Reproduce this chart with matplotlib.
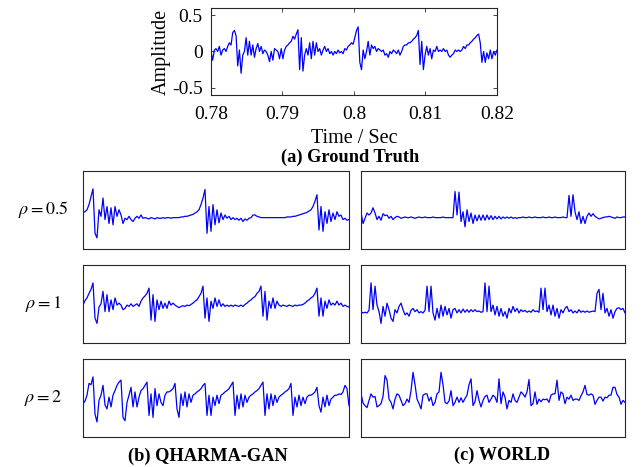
import numpy as np
import matplotlib
matplotlib.use('Agg')
import matplotlib.pyplot as plt

plt.rcParams['font.family'] = ['Liberation Serif', 'DejaVu Serif']
plt.rcParams['mathtext.fontset'] = 'stix'
plt.rcParams['axes.unicode_minus'] = False

LINE_COLOR = '#0000ff'
FRAME_COLOR = '#262626'

# (a) ground truth waveform, 0.78 s .. 0.82 s
t_start, t_end = 0.78, 0.82
gt_amp = [
    0.00, -0.12, 0.02, 0.04, 0.00, 0.07, -0.05, 0.02, 0.04, 0.00,
    0.07, 0.12, 0.09, 0.26, 0.29, 0.22, -0.20, 0.02, -0.30, -0.05,
    0.00, 0.19, -0.05, 0.14, -0.05, 0.09, -0.08, 0.04, 0.11, 0.00,
    0.07, -0.03, 0.02, 0.00, -0.05, -0.14, 0.00, -0.12, 0.04, 0.02,
    0.00, -0.10, 0.04, -0.10, 0.02, 0.07, 0.09, 0.12, 0.14, 0.21,
    0.17, 0.24, 0.30, -0.25, 0.19, -0.27, -0.05, 0.04, -0.05, 0.12,
    -0.10, 0.14, -0.05, 0.12, 0.00, 0.04, -0.05, 0.02, 0.07, 0.00,
    0.04, -0.03, 0.00, -0.05, 0.00, -0.03, 0.02, -0.02, 0.00, -0.03,
    0.04, 0.02, 0.07, 0.09, 0.12, 0.10, 0.19, 0.29, 0.34,
    -0.15, -0.25, 0.02, -0.10, 0.00, 0.14, -0.05, 0.09, 0.04, 0.07,
    0.00, 0.04, 0.02, 0.00, 0.02, -0.05, -0.03, -0.08, 0.00, -0.03,
    0.02, 0.00, -0.03, 0.02, -0.05, 0.00, 0.07, 0.09, 0.09, 0.12,
    0.12, 0.14, 0.17, 0.19, 0.22, 0.29, -0.18, 0.14, -0.25, -0.05,
    0.07, -0.05, 0.04, -0.10, 0.02, 0.00, 0.07, 0.00, 0.02, 0.00,
    0.04, 0.00, 0.02, -0.05, -0.08, -0.05, -0.03, 0.02, 0.00, 0.02,
    0.00, 0.02, 0.07, 0.04, 0.09, 0.09, 0.12, 0.14, 0.17, 0.19,
    0.22, 0.24, 0.12, -0.15, 0.00, -0.15, -0.02, -0.10, 0.02, -0.10,
    0.00, -0.05, 0.02,
]

# (b) QHARMA-GAN, same segment at rho = 0.5, 1, 2
qharma_05 = [
    -0.04, -0.03, 0.00, 0.08, 0.20, 0.32, -0.36, -0.43, 0.00, -0.10,
    0.18, -0.15, 0.05, -0.21, 0.03, -0.23, 0.05, -0.10, 0.00, -0.08,
    -0.21, -0.13, -0.15, -0.10, -0.15, -0.18, -0.13, -0.10, -0.13, -0.08,
    -0.13, -0.12, -0.13, -0.14, -0.12, -0.13, -0.14, -0.12, -0.13, -0.13,
    -0.12, -0.13, -0.12, -0.12, -0.13, -0.12, -0.12, -0.12, -0.12, -0.11,
    -0.11, -0.10, -0.10, -0.09, -0.08, -0.07, -0.05, -0.03, 0.00, 0.08,
    0.18, 0.31, -0.36, 0.05, -0.33, 0.08, -0.23, 0.00, -0.20, -0.05,
    -0.15, -0.08, -0.13, -0.10, -0.15, -0.12, -0.15, -0.13, -0.16, -0.13,
    -0.18, -0.14, -0.16, -0.13, -0.12, -0.08, -0.08, -0.10, -0.11, -0.12,
    -0.12, -0.12, -0.12, -0.12, -0.12, -0.12, -0.12, -0.12, -0.12, -0.12,
    -0.12, -0.12, -0.11, -0.11, -0.11, -0.10, -0.10, -0.09, -0.08, -0.07,
    -0.06, -0.05, -0.04, -0.02, 0.00, 0.05, 0.13, 0.23, -0.31, 0.05,
    -0.33, -0.03, -0.21, 0.00, -0.18, -0.05, -0.15, -0.03, -0.10, -0.08,
    -0.15, -0.13, -0.16, -0.15,
]
qharma_1 = [
    -0.02, 0.05, 0.09, 0.16, 0.22, 0.32, -0.22, -0.30, -0.05, 0.00,
    0.19, -0.12, 0.14, -0.12, 0.06, -0.09, 0.09, -0.02, 0.01, -0.02,
    -0.09, -0.07, -0.02, -0.04, 0.00, -0.04, -0.02, 0.00, -0.04, 0.04,
    0.09, 0.12, 0.16, 0.24, -0.25, 0.14, -0.27, 0.06, -0.09, 0.04,
    -0.07, 0.01, -0.07, 0.04, -0.02, 0.01, -0.02, -0.04, -0.06, -0.04,
    -0.03, -0.04, -0.02, -0.03, -0.01, 0.01, 0.04, 0.06, 0.11, 0.16,
    0.27, -0.22, 0.09, -0.27, 0.04, -0.07, 0.09, -0.04, 0.06, -0.04,
    0.00, -0.04, -0.02, -0.04, -0.02, -0.04, -0.02, -0.03, -0.04, -0.02,
    -0.04, -0.01, 0.01, 0.04, 0.06, 0.09, 0.11, 0.16, 0.19, 0.27,
    -0.19, 0.19, -0.25, 0.04, -0.07, 0.09, -0.07, 0.04, -0.02, -0.04,
    -0.02, -0.03, -0.04, -0.02, -0.03, -0.04, -0.02, -0.03, -0.02, -0.02,
    -0.01, 0.01, 0.04, 0.06, 0.09, 0.11, 0.16, 0.24, -0.19, 0.09,
    -0.19, 0.04, -0.07, 0.06, -0.02, 0.01, -0.02, 0.04, -0.02, 0.01,
    -0.04, -0.02, -0.04, -0.05,
]
qharma_2 = [
    -0.09, -0.05, 0.04, 0.22, 0.20, 0.32, -0.25, -0.37, -0.04, 0.04,
    0.19, -0.11, -0.17, 0.01, -0.14, 0.04, 0.11, 0.19, 0.24, 0.27,
    -0.30, -0.35, -0.07, 0.04, 0.16, -0.14, 0.09, -0.14, 0.01, 0.11,
    0.14, 0.19, 0.24, -0.27, 0.06, -0.30, 0.14, -0.12, 0.06, -0.07,
    -0.12, 0.04, 0.09, 0.09, 0.11, 0.14, 0.22, -0.17, -0.30, 0.06,
    -0.12, 0.09, -0.14, 0.06, -0.07, 0.04, 0.06, 0.09, 0.11, 0.14,
    0.19, 0.22, -0.27, 0.04, -0.27, 0.01, -0.12, 0.04, -0.09, 0.04,
    0.06, 0.09, 0.11, 0.14, 0.19, 0.24, -0.27, 0.04, -0.17, 0.06,
    -0.14, 0.04, -0.07, 0.01, 0.04, 0.06, 0.09, 0.11, 0.14, 0.19,
    0.24, -0.27, 0.06, -0.17, 0.06, -0.12, 0.04, -0.07, 0.01, 0.04,
    0.06, 0.09, 0.11, 0.14, 0.22, -0.27, 0.01, -0.14, 0.04, -0.12,
    0.01, -0.09, 0.01, 0.04, 0.04, 0.06, 0.09, 0.16, -0.12, -0.22,
    0.01, -0.14, 0.04, -0.12, -0.02, 0.01, 0.04, 0.04, 0.06, 0.05,
    0.09, 0.19, 0.14, -0.12,
]

# (c) WORLD, same segment at rho = 0.5, 1, 2
world_05 = [
    -0.04, -0.21, -0.13, -0.05, -0.08, -0.05, 0.03, -0.05, -0.15, -0.10,
    -0.16, -0.06, -0.09, -0.08, -0.13, -0.10, -0.15, -0.12, -0.10, -0.11,
    -0.13, -0.12, -0.11, -0.12, -0.12, -0.11, -0.12, -0.13, -0.12, -0.11,
    -0.12, -0.12, -0.11, -0.12, -0.12, -0.12, -0.11, -0.12, -0.12, -0.12,
    -0.12, -0.11, -0.12, -0.12, -0.12, -0.12, -0.12, 0.28, -0.08, 0.27,
    -0.18, -0.03, -0.26, 0.00, -0.18, -0.05, -0.21, -0.08, -0.17, -0.08,
    -0.16, -0.08, -0.16, -0.08, -0.15, -0.09, -0.15, -0.10, -0.14, -0.10,
    -0.14, -0.11, -0.13, -0.11, -0.13, -0.11, -0.13, -0.12, -0.13, -0.12,
    -0.12, -0.11, -0.12, -0.12, -0.11, -0.12, -0.12, -0.11, -0.12, -0.12,
    -0.12, -0.11, -0.12, -0.12, -0.11, -0.12, -0.12, -0.11, -0.12, -0.12,
    -0.12, -0.11, -0.12, -0.12, 0.22, -0.10, 0.23, -0.03, -0.15, -0.03,
    -0.21, -0.10, -0.21, -0.10, -0.05, -0.10, -0.06, -0.10, -0.12, -0.14,
    -0.13, -0.12, -0.11, -0.11, -0.10, -0.11, -0.12, -0.13, -0.11, -0.12,
    -0.12, -0.11, -0.11,
]
world_1 = [
    -0.12, -0.14, -0.13, -0.14, -0.10, 0.32, -0.09, 0.27, -0.02, -0.12,
    -0.30, -0.04, -0.19, 0.01, -0.09, -0.22, -0.27, -0.09, -0.14, -0.04,
    0.01, -0.09, -0.17, -0.14, -0.19, -0.10, -0.07, -0.12, -0.09, -0.14,
    -0.12, -0.14, -0.10, 0.27, -0.12, 0.27, -0.14, -0.25, -0.07, -0.22,
    -0.02, -0.19, -0.04, -0.17, -0.07, -0.22, -0.09, -0.07, -0.14, -0.09,
    -0.14, -0.08, -0.13, -0.09, -0.13, -0.09, -0.12, -0.09, -0.12, -0.11,
    -0.13, -0.12, 0.32, -0.12, 0.27, -0.12, -0.02, -0.17, -0.04, -0.19,
    -0.07, -0.19, -0.12, -0.22, -0.07, -0.14, -0.04, -0.12, -0.07, -0.14,
    -0.09, -0.12, -0.10, -0.13, -0.11, -0.13, -0.09, -0.12, -0.11, -0.13,
    0.24, -0.09, 0.24, -0.12, -0.02, -0.17, -0.02, -0.19, -0.07, -0.22,
    -0.09, -0.14, -0.07, -0.04, -0.12, -0.09, -0.14, -0.11, -0.14, -0.09,
    -0.13, -0.11, -0.13, -0.11, -0.13, -0.12, -0.11, -0.12, 0.16, 0.22,
    -0.09, 0.16, -0.14, -0.07, -0.19, -0.09, -0.22, -0.12, -0.07, -0.06,
    -0.09, -0.07, -0.14,
]
world_2 = [
    0.06, -0.08, -0.12, -0.15, -0.04, 0.06, 0.01, 0.02, -0.14, -0.12,
    -0.09, 0.02, 0.34, 0.27, -0.02, -0.07, -0.17, -0.02, 0.06, 0.04,
    -0.04, -0.12, -0.09, -0.02, -0.07, 0.11, 0.39, 0.20, -0.02, -0.09,
    -0.17, 0.04, 0.06, 0.06, -0.05, 0.01, -0.12, -0.07, 0.06, 0.09,
    0.39, 0.20, -0.07, -0.09, -0.05, 0.11, -0.12, -0.07, 0.01, -0.07,
    0.00, -0.07, -0.01, 0.04, 0.20, 0.29, -0.12, -0.06, 0.11, -0.04,
    -0.14, -0.04, 0.02, 0.04, -0.07, -0.02, 0.04, 0.01, -0.07, 0.29,
    -0.09, 0.09, 0.01, -0.17, -0.04, -0.07, 0.06, -0.04, -0.07, 0.01,
    0.09, 0.06, 0.01, 0.09, 0.28, -0.12, -0.09, 0.09, -0.10, -0.02,
    -0.06, -0.02, -0.03, -0.02, -0.07, 0.04, 0.06, 0.06, 0.27, -0.04,
    0.09, 0.06, -0.09, 0.01, -0.02, 0.04, -0.04, -0.02, -0.02, -0.04,
    0.03, 0.09, 0.19, 0.05, 0.04, 0.06, 0.04, -0.10, -0.04, 0.01,
    0.01, -0.05, 0.01, 0.00, 0.04, 0.04, 0.16, 0.16, 0.05, 0.01,
    -0.10, -0.04, -0.07,
]

rho_labels = [r'$\rho = 0.5$', r'$\rho = 1$', r'$\rho = 2$']
qharma_rows = [qharma_05, qharma_1, qharma_2]
world_rows = [world_05, world_1, world_2]
captions = ['(a) Ground Truth', '(b) QHARMA-GAN', '(c) WORLD']


def style_frame(ax):
    for sp in ax.spines.values():
        sp.set_color(FRAME_COLOR)
        sp.set_linewidth(0.8)


fig = plt.figure(figsize=(6.44, 4.67), dpi=100)

# top panel with real axes
ax = fig.add_axes([0.3276, 0.7966, 0.4441, 0.1863])
t = np.linspace(t_start, t_end, len(gt_amp))
ax.plot(t, gt_amp, color=LINE_COLOR, lw=0.9)
ax.set_xlim(t_start, t_end)
ax.set_ylim(-0.6, 0.6)
ax.set_xticks([0.78, 0.79, 0.80, 0.81, 0.82])
ax.set_xticklabels(['0.78', '0.79', '0.8', '0.81', '0.82'])
ax.set_yticks([-0.5, 0, 0.5])
ax.set_yticklabels(['-0.5', '0', '0.5'])
ax.tick_params(direction='in', length=3, width=0.6, top=True, right=True,
               labelsize=14, colors=FRAME_COLOR, labelcolor='black')
ax.tick_params(axis='x', pad=8)
ax.tick_params(axis='y', pad=6)
ax.set_xlabel('Time / Sec', fontsize=14.5, labelpad=4)
ax.set_ylabel('Amplitude', fontsize=14.5, labelpad=1)
style_frame(ax)
fig.text(0.5435, 0.6638, captions[0], fontsize=13.2, fontweight='bold',
         ha='center', va='center')

# 3 x 2 grid of resynthesised waveforms
col_left = [0.1289, 0.5606]
col_width = [0.4130, 0.4099]
row_bottom = [0.4668, 0.2655, 0.0642]
row_height = 0.168

for r in range(3):
    for c, rows in enumerate([qharma_rows, world_rows]):
        vals = rows[r]
        a = fig.add_axes([col_left[c], row_bottom[r], col_width[c], row_height])
        a.plot(np.arange(len(vals)), vals, color=LINE_COLOR, lw=0.9)
        a.set_xlim(0, len(vals) - 1)
        a.set_ylim(-0.6, 0.6)
        a.set_xticks([])
        a.set_yticks([])
        style_frame(a)
    fig.text(0.067, row_bottom[r] + row_height / 2, rho_labels[r],
             fontsize=13, ha='center', va='center')

fig.text(0.323, 0.0225, captions[1], fontsize=13.2, fontweight='bold',
         ha='center', va='center')
fig.text(0.7795, 0.0245, captions[2], fontsize=13.2, fontweight='bold',
         ha='center', va='center')

fig.savefig('out.png', dpi=100)
